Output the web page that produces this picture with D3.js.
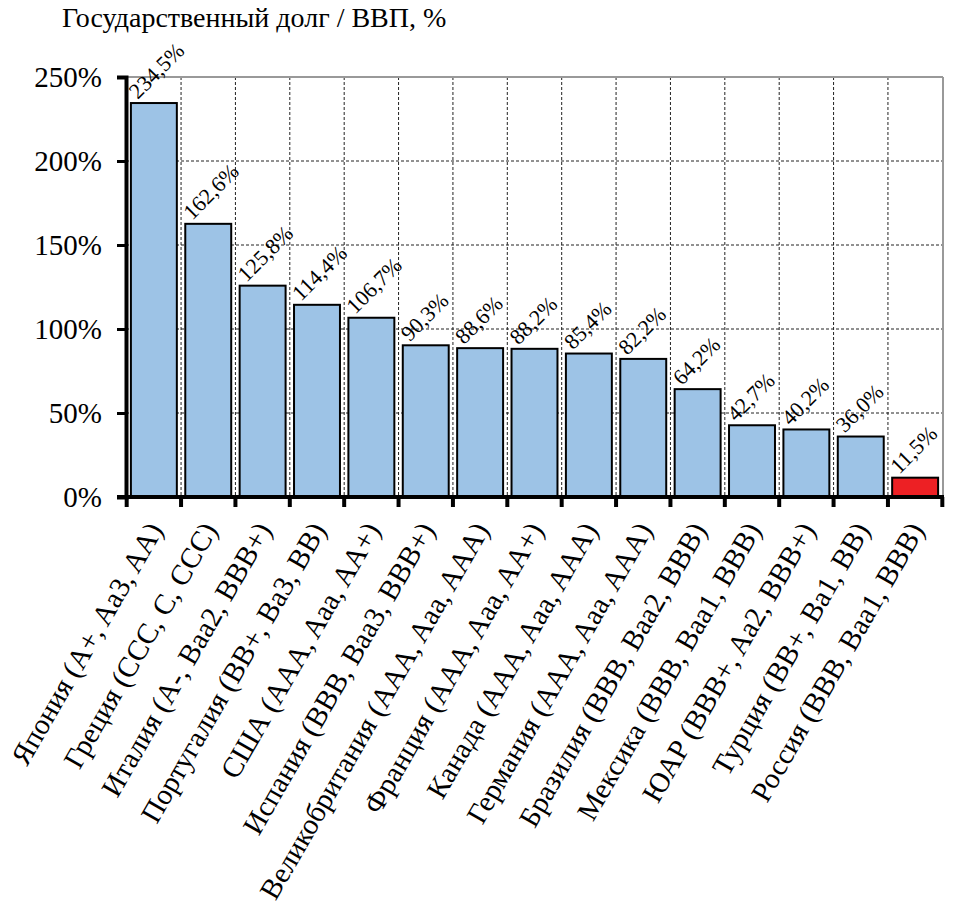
<!DOCTYPE html>
<html>
<head>
<meta charset="utf-8">
<script src="https://cdn.jsdelivr.net/npm/d3@7"></script>
</head>
<body style="margin:0;background:#fff">
<div id="chart"></div>
<script>
// country (ratings S&P, Moody's, Fitch)
const countries = [
	"Япония (A+, Aa3, AA)",
	"Греция (CCC, C, CCC)",
	"Италия (A-, Baa2, BBB+)",
	"Португалия (BB+, Ba3, BB)",
	"США (AAA, Aaa, AA+)",
	"Испания (BBB, Baa3, BBB+)",
	"Великобритания (AAA, Aaa, AAA)",
	"Франция (AAA, Aaa, AA+)",
	"Канада (AAA, Aaa, AAA)",
	"Германия (AAA, Aaa, AAA)",
	"Бразилия (BBB, Baa2, BBB)",
	"Мексика (BBB, Baa1, BBB)",
	"ЮАР (BBB+, Aa2, BBB+)",
	"Турция (BB+, Ba1, BB)",
	"Россия (BBB, Baa1, BBB)"
];
const debtToGdp = [234.5, 162.6, 125.8, 114.4, 106.7, 90.3, 88.6, 88.2, 85.4, 82.2, 64.2, 42.7, 40.2, 36.0, 11.5];
const highlighted = ["Россия (BBB, Baa1, BBB)"];
const yTicks = [0, 50, 100, 150, 200, 250];
const title = "Государственный долг / ВВП, %";

const width = 953, height = 906;
const margin = {top: 77, right: 10, bottom: 409, left: 126};
const innerW = width - margin.left - margin.right;
const innerH = height - margin.top - margin.bottom;
const serif = "'Liberation Serif', 'Times New Roman', Times, serif";

const svg = d3.select("#chart").append("svg")
	.attr("width", width)
	.attr("height", height);

svg.append("text")
	.attr("x", 62)
	.attr("y", 27)
	.style("font-family", serif)
	.style("font-size", "28px")
	.text(title);

const g = svg.append("g")
	.attr("transform", "translate(" + margin.left + "," + margin.top + ")");

const x = d3.scaleBand().domain(countries).range([0, innerW]).paddingInner(0.155).paddingOuter(0.09);
const y = d3.scaleLinear().domain([0, 250]).range([innerH, 0]);

// band boundaries for vertical grid
const step = x.step();
const x0 = x(countries[0]) - x.paddingInner() * step / 2;
const bounds = d3.range(countries.length + 1).map(i => x0 + i * step);

// horizontal grid
g.selectAll("line.hgrid")
	.data(yTicks.filter(t => t > 0 && t < 250))
	.enter().append("line")
	.attr("class", "hgrid")
	.attr("x1", 0).attr("x2", innerW)
	.attr("y1", d => y(d)).attr("y2", d => y(d))
	.style("stroke", "#222")
	.style("stroke-width", 1)
	.style("stroke-dasharray", "3,2");

g.selectAll("line.vgrid")
	.data(bounds.slice(1, -1))
	.enter().append("line")
	.attr("class", "vgrid")
	.attr("x1", d => d).attr("x2", d => d)
	.attr("y1", 0).attr("y2", innerH)
	.style("stroke", "#222")
	.style("stroke-width", 1)
	.style("stroke-dasharray", "3,2");

// top and right border
g.append("line")
	.attr("x1", 0).attr("x2", innerW)
	.attr("y1", y(250)).attr("y2", y(250))
	.style("stroke", "#999").style("stroke-width", 2);
g.append("line")
	.attr("x1", innerW).attr("x2", innerW)
	.attr("y1", 0).attr("y2", innerH)
	.style("stroke", "#999").style("stroke-width", 2);

// bars
g.selectAll("rect.bar")
	.data(countries)
	.enter().append("rect")
	.attr("class", "bar")
	.attr("x", d => x(d))
	.attr("y", (d, i) => y(debtToGdp[i]))
	.attr("width", x.bandwidth())
	.attr("height", (d, i) => innerH - y(debtToGdp[i]))
	.style("fill", d => highlighted.includes(d) ? "#ED2024" : "#9DC3E6")
	.style("stroke", "#000")
	.style("stroke-width", 2);

// value labels, rotated 45
const fmt = v => v.toFixed(1).replace(".", ",") + "%";
g.selectAll("text.val")
	.data(countries)
	.enter().append("text")
	.attr("class", "val")
	.style("font-family", serif)
	.style("font-size", "22px")
	.attr("transform", (d, i) => "translate(" + (x(d) + x.bandwidth() / 2 - 16) + "," + (y(debtToGdp[i]) - 3) + ") rotate(-45)")
	.text((d, i) => fmt(debtToGdp[i]));

// y axis
const yAxis = d3.axisLeft(y).tickValues(yTicks).tickSize(9).tickFormat(d => d + "%");
const ya = g.append("g").attr("class", "y axis").call(yAxis);
ya.select(".domain").style("stroke", "#000").style("stroke-width", 4);
ya.selectAll(".tick line").style("stroke", "#000").style("stroke-width", 3);
ya.selectAll(".tick text")
	.attr("x", -24)
	.style("font-family", serif)
	.style("font-size", "29px");

// x axis
const xa = g.append("g").attr("class", "x axis")
	.attr("transform", "translate(0," + innerH + ")");
xa.append("line")
	.attr("x1", -9).attr("x2", innerW + 1)
	.style("stroke", "#000").style("stroke-width", 4);
xa.selectAll("line.tick")
	.data(bounds)
	.enter().append("line")
	.attr("class", "tick")
	.attr("x1", d => d).attr("x2", d => d)
	.attr("y1", 0).attr("y2", 10)
	.style("stroke", "#000").style("stroke-width", 4);

xa.selectAll("text.cat")
	.data(countries)
	.enter().append("text")
	.attr("class", "cat")
	.attr("text-anchor", "end")
	.style("font-family", serif)
	.style("font-size", "29px")
	.attr("transform", d => "translate(" + (x(d) + x.bandwidth() / 2 + 10) + ",33) rotate(-60)")
	.text(d => d);
</script>
</body>
</html>
